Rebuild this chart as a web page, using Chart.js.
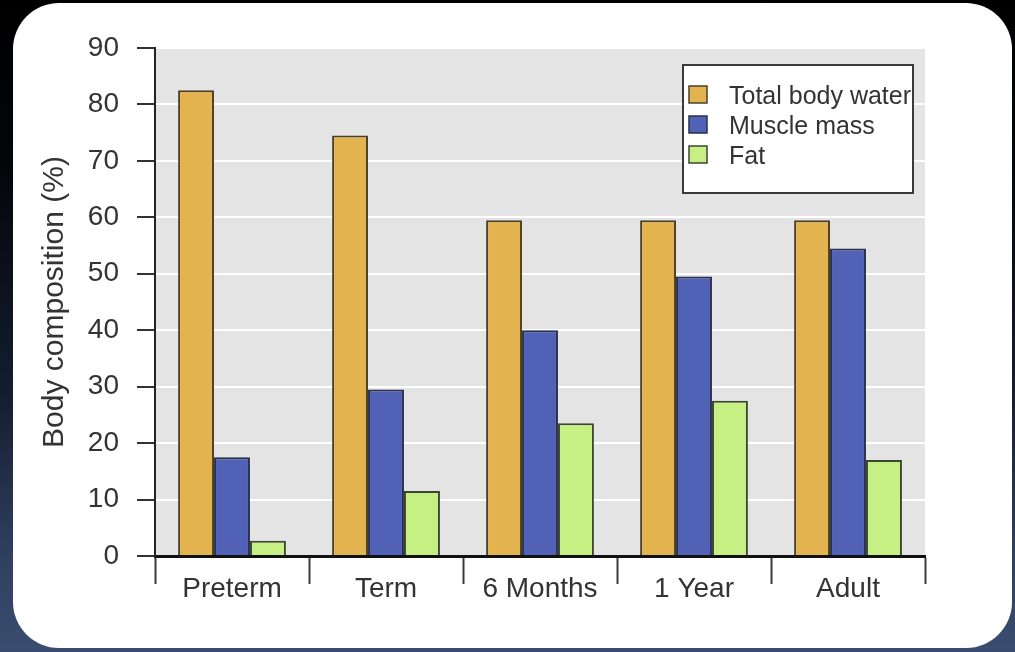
<!DOCTYPE html>
<html>
<head>
<meta charset="utf-8">
<script src="https://cdn.jsdelivr.net/npm/chart.js@4.4.1/dist/chart.umd.min.js"></script>
<style>
  html, body { margin: 0; padding: 0; }
  body {
    width: 1015px; height: 652px; overflow: hidden; position: relative;
    background: linear-gradient(to bottom, #000000 0%, #03050a 25%, #141d2e 60%, #2f3f5f 85%, #3a4d70 100%);
  }
  .card {
    position: absolute; left: 13px; top: 3px; width: 999px; height: 645px;
    background: #ffffff; border-radius: 46px;
  }
  .wrap { position: absolute; left: 0; top: 0; width: 1015px; height: 652px; }
</style>
</head>
<body>
<div class="card"></div>
<div class="wrap"><canvas id="chart"></canvas></div>
<script>
// Body composition by age group (%)
const categories = ['Preterm', 'Term', '6 Months', '1 Year', 'Adult'];
const totalBodyWater = [82.5, 74.5, 59.5, 59.5, 59.5];
const muscleMass = [17.5, 29.5, 40, 49.5, 54.5];
const fat = [2.7, 11.5, 23.5, 27.5, 17];
const yMin = 0, yMax = 90, yStep = 10;

const FONT = "'Liberation Sans', Arial, sans-serif";
const TEXT = '#333333';

// Grey plotting field behind the bars
const plotBackground = {
  id: 'plotBackground',
  beforeDraw(chart) {
    const { ctx, chartArea: a } = chart;
    ctx.save();
    ctx.fillStyle = '#e4e4e4';
    ctx.fillRect(a.left, a.top, a.right - a.left, a.bottom - a.top);
    ctx.restore();
  }
};

// Boxed legend inside the top-right corner of the plot
const boxedLegend = {
  id: 'boxedLegend',
  afterDraw(chart) {
    const { ctx, chartArea: a } = chart;
    const w = 230, h = 128;
    const x = a.right - 12 - w, y = a.top + 17;
    ctx.save();
    ctx.fillStyle = '#ffffff';
    ctx.fillRect(x, y, w, h);
    ctx.strokeStyle = '#3a3a3a';
    ctx.lineWidth = 2;
    ctx.strokeRect(x, y, w, h);
    ctx.font = '25px ' + FONT;
    ctx.textBaseline = 'middle';
    ctx.textAlign = 'left';
    chart.data.datasets.forEach((ds, i) => {
      const cy = y + 32 + i * 30;
      ctx.fillStyle = ds.backgroundColor;
      ctx.fillRect(x + 6, cy - 11, 18, 17);
      ctx.strokeStyle = ds.borderColor;
      ctx.lineWidth = 1.5;
      ctx.strokeRect(x + 6, cy - 11, 18, 17);
      ctx.fillStyle = TEXT;
      ctx.fillText(ds.label, x + 46, cy);
    });
    ctx.restore();
  }
};

new Chart(document.getElementById('chart'), {
  type: 'bar',
  data: {
    labels: categories,
    datasets: [
      { label: 'Total body water', data: totalBodyWater, backgroundColor: '#e3b34f', borderColor: '#4a4028', borderWidth: 2 },
      { label: 'Muscle mass', data: muscleMass, backgroundColor: '#5161b6', borderColor: '#2a2f4a', borderWidth: 2 },
      { label: 'Fat', data: fat, backgroundColor: '#c6ef84', borderColor: '#3c4530', borderWidth: 2 }
    ]
  },
  options: {
    responsive: true,
    maintainAspectRatio: false,
    animation: false,
    categoryPercentage: 0.7,
    barPercentage: 1.0,
    layout: { padding: { left: 0, top: 48, right: 90, bottom: 0 } },
    plugins: {
      legend: { display: false },
      tooltip: { enabled: false }
    },
    scales: {
      x: {
        grid: {
          offset: true,
          drawOnChartArea: false,
          drawTicks: true,
          tickLength: 28,
          tickColor: '#3a3a3a',
          tickWidth: 2
        },
        border: { display: true, color: '#111111', width: 3 },
        ticks: {
          color: TEXT,
          padding: -12,
          font: { family: FONT, size: 28 }
        },
        afterFit(scale) { scale.height = 96; }
      },
      y: {
        min: yMin,
        max: yMax,
        grid: {
          color: '#ffffff',
          lineWidth: 2,
          drawTicks: true,
          tickLength: 18,
          tickColor: '#333333',
          tickWidth: 2
        },
        border: { display: true, color: '#222222', width: 2 },
        ticks: {
          stepSize: yStep,
          color: TEXT,
          padding: 18,
          font: { family: FONT, size: 28 }
        },
        title: {
          display: true,
          text: 'Body composition (%)',
          color: TEXT,
          padding: { top: 37, bottom: 0 },
          font: { family: FONT, size: 30 }
        },
        afterFit(scale) { scale.width = 155; }
      }
    }
  },
  plugins: [plotBackground, boxedLegend]
});
</script>
</body>
</html>
